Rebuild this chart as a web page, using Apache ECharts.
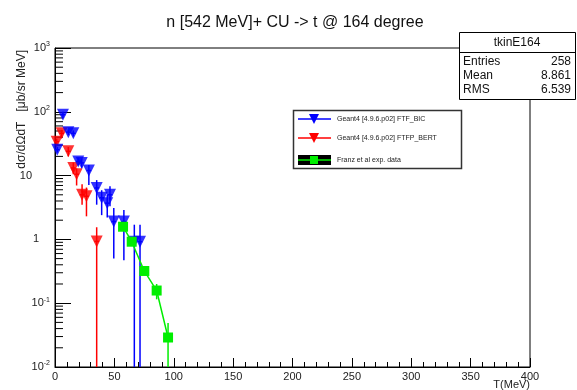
<!DOCTYPE html>
<html>
<head>
<meta charset="utf-8">
<script src="https://cdn.jsdelivr.net/npm/echarts@6/dist/echarts.min.js"></script>
<style>
  html, body { margin: 0; padding: 0; background: #fff; }
  #chart { width: 577px; height: 390px; }
</style>
</head>
<body>
<div id="chart"></div>
<script>
// Geant4 FTF_BIC (blue)
const bicT = [1.9, 6.7, 11.2, 15.4, 19.6, 22.5, 28.5, 35.1, 39.3, 44.0, 46.3, 49.5, 58.0, 66.8, 71.6]
const bicV = [25.5, 90, 48, 46, 16.7, 15.8, 12, 6.4, 4.5, 3.7, 5.0, 1.9, 1.9, 0.92, 0.92]
const bicHi = [28, 100, 53, 51, 19, 18.5, 14.7, 8.5, 5.9, 5.0, 6.8, 3.1, 2.9, 1.7, 1.7]
const bicLo = [23, 80, 43, 41, 14.5, 13.3, 7.1, 3.5, 2.4, 2.2, 3.3, 0.5, 0.47, 0.01, 0.01]

// Geant4 FTFP_BERT (red)
const bertT = [1.4, 5.6, 11.2, 15.4, 18.2, 22.8, 26.5, 35.1]
const bertV = [34, 46, 24, 13.2, 10.5, 5.0, 4.75, 0.93]
const bertHi = [38, 52, 28, 16, 13, 7.3, 6.5, 1.55]
const bertLo = [30, 40, 20, 10.5, 7.0, 3.5, 2.3, 0.01]

// Franz et al exp. data (green)
const expT = [57.3, 64.6, 75.2, 85.6, 95.2]
const expV = [1.58, 0.92, 0.32, 0.158, 0.029]
const expHi = [1.75, 1.0, 0.36, 0.2, 0.049]
const expLo = [1.42, 0.84, 0.28, 0.115, 0.01]

const yMajor = [0.01, 0.1, 1, 10, 100, 1000]

const FONT = "Liberation Sans, Helvetica, Arial, sans-serif"
const BLUE = "#0000ff"
const RED = "#ff0000"
const GREEN = "#00ee00"

// minor ticks of the log axis: 2..9 in each decade
const yMinor = []
yMajor.slice(0, -1).forEach((d) => {
  for (let k = 2; k <= 9; k++) yMinor.push([0, d * k])
})

function points(t, v) {
  return t.map((x, i) => [x, v[i]])
}
function bars(t, v, lo, hi) {
  return t.map((x, i) => [x, v[i], lo[i], hi[i]])
}

function errorSeries(data, color) {
  return {
    type: "custom",
    data: data,
    encode: { x: 0, y: 1 },
    silent: true,
    renderItem: (params, api) => {
      const x = api.value(0)
      const top = api.coord([x, api.value(3)])
      const bot = api.coord([x, api.value(2)])
      const l = api.coord([x - 2, api.value(1)])
      const r = api.coord([x + 2, api.value(1)])
      const st = { stroke: color, lineWidth: 1.5 }
      return {
        type: "group",
        children: [
          { type: "line", shape: { x1: top[0], y1: top[1], x2: bot[0], y2: bot[1] }, style: st },
          { type: "line", shape: { x1: l[0], y1: l[1], x2: r[0], y2: r[1] }, style: st },
        ],
      }
    },
  }
}

const supLabel = (value) => {
  if (Math.abs(value - 10) < 1e-9) return "{ten|10}"
  if (Math.abs(value - 1) < 1e-9) return "{one|1}"
  const e = Math.round(Math.log10(value))
  return "{b|10}{s|" + e + "}"
}

const chart = echarts.init(document.getElementById("chart"))

const option = {
  animation: false,
  backgroundColor: "#fff",
  grid: {
    left: 55,
    right: 47,
    top: 48,
    bottom: 23,
    show: true,
    borderColor: "#000",
    borderWidth: 1,
    backgroundColor: "#fff",
  },
  xAxis: {
    type: "value",
    min: 0,
    max: 400,
    interval: 50,
    axisLine: { lineStyle: { color: "#000", width: 1 } },
    axisTick: { inside: true, length: 9, lineStyle: { color: "#000" } },
    minorTick: { show: true, splitNumber: 5, length: 5, lineStyle: { color: "#000" } },
    splitLine: { show: false },
    axisLabel: { color: "#222", fontSize: 11, fontFamily: FONT, margin: 4 },
  },
  yAxis: {
    type: "log",
    logBase: 10,
    min: 0.01,
    max: 1000,
    axisLine: { lineStyle: { color: "#000", width: 1 } },
    axisTick: { inside: true, length: 16, lineStyle: { color: "#000" } },
    splitLine: { show: false },
    axisLabel: {
      margin: 5,
      formatter: supLabel,
      rich: {
        b: { fontSize: 11, fontFamily: FONT, color: "#222" },
        s: { fontSize: 7, fontFamily: FONT, color: "#222", padding: [0, 0, 7, 0] },
        ten: { fontSize: 11, fontFamily: FONT, color: "#222", padding: [0, 18, 0, 0] },
        one: { fontSize: 11, fontFamily: FONT, color: "#222", padding: [0, 11, 0, 0] },
      },
    },
  },
  title: {
    text: "n [542 MeV]+ CU -> t @ 164 degree",
    left: 290,
    top: 10,
    textAlign: "center",
    textStyle: { fontSize: 16, fontWeight: "normal", fontFamily: FONT, color: "#111" },
  },
  series: [
    {
      // minor ticks of the y axis
      type: "custom",
      data: yMinor,
      silent: true,
      renderItem: (params, api) => {
        const p = api.coord([0, api.value(1)])
        return {
          type: "line",
          shape: { x1: p[0], y1: p[1], x2: p[0] + 8, y2: p[1] },
          style: { stroke: "#000", lineWidth: 1 },
        }
      },
    },
    errorSeries(bars(bertT, bertV, bertLo, bertHi), RED),
    {
      type: "scatter",
      data: points(bertT, bertV),
      symbol: "triangle",
      symbolRotate: 180,
      symbolSize: 12,
      itemStyle: { color: RED },
    },
    errorSeries(bars(bicT, bicV, bicLo, bicHi), BLUE),
    {
      type: "scatter",
      data: points(bicT, bicV),
      symbol: "triangle",
      symbolRotate: 180,
      symbolSize: 12,
      itemStyle: { color: BLUE },
    },
    errorSeries(bars(expT, expV, expLo, expHi), GREEN),
    {
      type: "line",
      data: points(expT, expV),
      symbol: "rect",
      symbolSize: 10,
      lineStyle: { color: GREEN, width: 1.5 },
      itemStyle: { color: GREEN },
    },
  ],
  graphic: [
    // y axis title
    {
      type: "text",
      x: 22,
      y: 50,
      rotation: Math.PI / 2,
      style: {
        text: "dσ/dΩdT   [μb/sr MeV]",
        font: "12px " + FONT,
        fill: "#222",
        align: "right",
        verticalAlign: "middle",
      },
    },
    // x axis title
    {
      type: "text",
      x: 530,
      y: 379,
      style: { text: "T(MeV)", font: "11px " + FONT, fill: "#222", align: "right", verticalAlign: "top" },
    },
    // stats box
    {
      type: "group",
      z: 100,
      children: [
        { type: "rect", shape: { x: 459.5, y: 32.5, width: 116, height: 67 }, style: { fill: "#fff", stroke: "#000", lineWidth: 1 } },
        { type: "line", shape: { x1: 459.5, y1: 52.5, x2: 575.5, y2: 52.5 }, style: { stroke: "#000", lineWidth: 1 } },
        { type: "text", x: 517, y: 43, style: { text: "tkinE164", font: "12px " + FONT, fill: "#111", align: "center", verticalAlign: "middle" } },
        { type: "text", x: 463, y: 62, style: { text: "Entries", font: "12px " + FONT, fill: "#111", verticalAlign: "middle" } },
        { type: "text", x: 571, y: 62, style: { text: "258", font: "12px " + FONT, fill: "#111", align: "right", verticalAlign: "middle" } },
        { type: "text", x: 463, y: 76, style: { text: "Mean", font: "12px " + FONT, fill: "#111", verticalAlign: "middle" } },
        { type: "text", x: 571, y: 76, style: { text: "8.861", font: "12px " + FONT, fill: "#111", align: "right", verticalAlign: "middle" } },
        { type: "text", x: 463, y: 90, style: { text: "RMS", font: "12px " + FONT, fill: "#111", verticalAlign: "middle" } },
        { type: "text", x: 571, y: 90, style: { text: "6.539", font: "12px " + FONT, fill: "#111", align: "right", verticalAlign: "middle" } },
      ],
    },
    // legend
    {
      type: "group",
      z: 100,
      children: [
        { type: "rect", shape: { x: 293.5, y: 110.5, width: 168, height: 58 }, style: { fill: "#fff", stroke: "#333", lineWidth: 1.5 } },
        { type: "line", shape: { x1: 298, y1: 119, x2: 331, y2: 119 }, style: { stroke: BLUE, lineWidth: 1.5 } },
        { type: "polygon", shape: { points: [[309, 114], [319, 114], [314, 124]] }, style: { fill: BLUE } },
        { type: "text", x: 337, y: 119, style: { text: "Geant4 [4.9.6.p02] FTF_BIC", font: "7px " + FONT, fill: "#222", verticalAlign: "middle" } },
        { type: "line", shape: { x1: 298, y1: 138, x2: 331, y2: 138 }, style: { stroke: RED, lineWidth: 1.5 } },
        { type: "polygon", shape: { points: [[309, 133], [319, 133], [314, 143]] }, style: { fill: RED } },
        { type: "text", x: 337, y: 138, style: { text: "Geant4 [4.9.6.p02] FTFP_BERT", font: "7px " + FONT, fill: "#222", verticalAlign: "middle" } },
        { type: "rect", shape: { x: 298, y: 155, width: 33, height: 10 }, style: { fill: "#000" } },
        { type: "line", shape: { x1: 298, y1: 160, x2: 331, y2: 160 }, style: { stroke: GREEN, lineWidth: 1.5 } },
        { type: "rect", shape: { x: 310, y: 156, width: 8, height: 8 }, style: { fill: GREEN } },
        { type: "text", x: 337, y: 160, style: { text: "Franz et al exp. data", font: "7px " + FONT, fill: "#222", verticalAlign: "middle" } },
      ],
    },
  ],
}

chart.setOption(option)
</script>
</body>
</html>
